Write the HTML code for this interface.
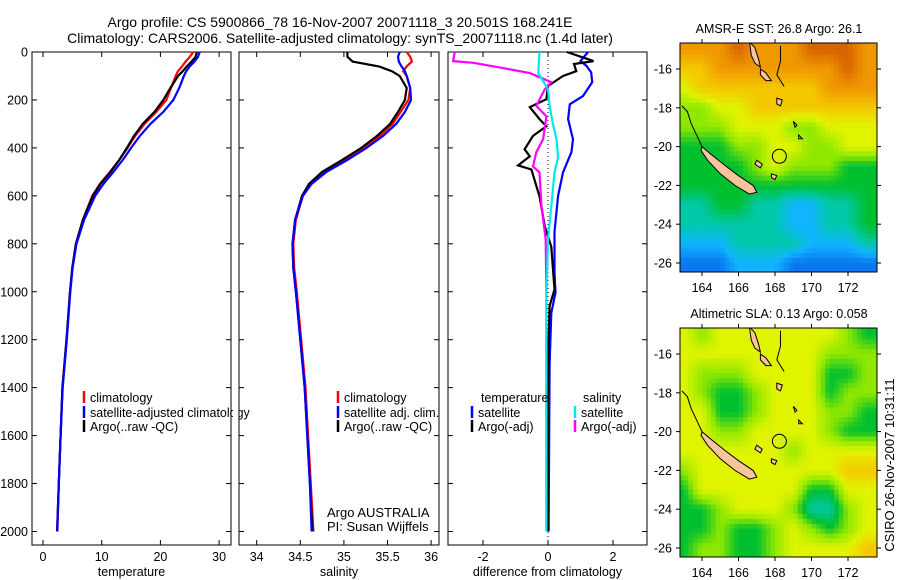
<!DOCTYPE html>
<html><head><meta charset="utf-8"><style>
html,body{margin:0;padding:0;background:#fff;}
svg{display:block;font-family:"Liberation Sans",sans-serif;}
</style></head><body>
<svg id="fig" width="900" height="580" viewBox="0 0 900 580" xmlns="http://www.w3.org/2000/svg">
<text x="340" y="27" font-size="14" text-anchor="middle">Argo profile: CS 5900866_78 16-Nov-2007 20071118_3 20.501S 168.241E</text>
<text x="340" y="43" font-size="14" text-anchor="middle">Climatology: CARS2006. Satellite-adjusted climatology: synTS_20071118.nc (1.4d later)</text>
<g id="p1"></g>
<g id="p2"></g>
<g id="p3"></g>
<g id="m1"></g>
<g id="m2"></g>
<text transform="translate(894,465) rotate(-90)" font-size="13" text-anchor="middle">CSIRO 26-Nov-2007 10:31:11</text>
</svg>
<script>
// ---- data ----
const depths = [0,20,40,60,80,100,150,200,250,300,350,400,450,500,550,600,700,800,900,1000,1200,1400,1600,1800,2000];
const tempArgo = [26.2,26.0,25.3,24.5,23.8,23.0,21.7,20.5,19.0,17.0,15.5,14.3,13.0,11.5,9.8,8.5,6.8,5.6,5.0,4.6,4.0,3.3,3.0,2.7,2.4];
const tempClim = [25.6,25.0,24.3,23.7,23.0,22.6,21.8,21.0,19.3,17.3,15.7,14.4,13.0,11.4,9.7,8.4,6.8,5.6,5.0,4.6,4.0,3.3,3.0,2.7,2.45];
const tempSat  = [26.7,26.4,25.8,25.0,24.4,24.0,23.2,22.2,20.5,18.3,16.5,15.0,13.6,12.0,10.3,8.9,7.0,5.7,5.05,4.65,4.05,3.35,3.0,2.7,2.4];
const salArgo = [35.04,35.04,35.1,35.4,35.55,35.64,35.72,35.70,35.62,35.53,35.38,35.2,34.98,34.75,34.6,34.52,34.44,34.41,34.42,34.45,34.5,34.55,34.58,34.61,34.64];
const salClim = [35.72,35.76,35.78,35.72,35.68,35.72,35.76,35.74,35.65,35.56,35.41,35.22,35.0,34.77,34.61,34.53,34.45,34.42,34.43,34.46,34.51,34.56,34.59,34.62,34.65];
const salSat  = [35.64,35.62,35.63,35.66,35.7,35.72,35.76,35.77,35.7,35.6,35.45,35.26,35.04,34.8,34.63,34.53,34.44,34.41,34.42,34.45,34.5,34.55,34.58,34.61,34.63];
const dBlackD = [0,38,50,80,100,142,197,230,280,310,350,406,435,473,490,602,728,812,990,1060,1200,1500,2000];
const dBlack  = [0.58,1.4,0.8,0.87,0.46,0,-0.05,-0.56,-0.26,-0.05,-0.46,-0.72,-0.56,-0.92,-0.51,-0.26,-0.1,0.1,0.2,0.05,0.02,0,0];
const dBlueD = [0,38,58,85,126,183,218,280,364,418,502,600,750,920,1004,1088,1300,2000];
const dBlue  = [1.23,1.0,1.18,1.33,1.36,1.08,0.67,0.62,0.77,0.72,0.46,0.31,0.2,0.2,0.23,0.1,0.05,0.02];
const dMagD = [0,38,45,67,88,126,155,225,268,364,418,477,502,644,782,1000,2000];
const dMag  = [-2.87,-2.92,-2.3,-1.38,-0.56,0.1,-0.1,-0.36,-0.05,-0.15,-0.36,-0.46,-0.26,-0.2,-0.07,-0.05,-0.05];
const dCyanD = [0,88,155,225,300,364,440,502,644,782,920,1000,2000];
const dCyan  = [-0.26,-0.3,0,0.05,0.15,0.26,0.31,0.2,0.1,0,-0.03,-0.05,-0.05];
const depthTicks = [0,200,400,600,800,1000,1200,1400,1600,1800,2000];
const tempTicks = [0,10,20,30];
const salTicks = [34,34.5,35,35.5,36];
const diffTicks = [-2,0,2];
const lonTicks = [164,166,168,170,172];
const latTicks = [16,18,20,22,24,26];
const sstGrid = [
[8,8,8,9,8,8,8,9,9,9,8],
[7,7,8,8,8,8,8,8,8,9,8],
[6,7,7,7,7,7,7,7,8,8,8],
[5,5,6,6,7,7,7,7,7,7,7],
[5,5,5,6,6,6,5,5,6,6,6],
[4,4,4,5,5,6,6,5,5,6,6],
[4,4,4,4,5,6,5,5,5,4,4],
[4,4,4,4,4,4,4,4,4,4,4],
[3,3,4,4,3,3,2,2,3,3,4],
[3,3,3,3,3,3,2,2,3,3,4],
[2,2,2,3,3,3,3,2,2,2,3],
[1,1,1,2,2,2,1,1,1,1,1]];
const slaGrid = [
[6,5,6,6,6,6,6,6,6,5,4],
[6,6,6,6,6,6,6,6,5,5,5],
[6,5,5,5,6,6,6,6,4,4,5],
[6,5,4,4,5,6,6,6,4,5,5],
[6,6,4,4,5,6,6,6,5,5,4],
[6,6,5,5,6,6,6,6,5,4,4],
[6,6,6,6,6,6,5,6,6,6,6],
[5,6,6,6,6,6,6,6,6,7,7],
[4,6,6,6,6,6,6,4,4,6,6],
[4,4,5,6,6,6,5,3,3,5,6],
[4,4,5,4,4,5,6,5,4,5,6],
[4,5,5,4,4,5,6,6,6,6,7]];
const palette = [[10,60,192],[10,120,240],[16,180,255],[0,200,168],[0,192,48],[144,232,0],[224,244,0],[244,200,0],[240,152,0],[216,100,0]];

// ---- helpers ----
const NS='http://www.w3.org/2000/svg';
function mk(parent,tag,attrs,text){const e=document.createElementNS(NS,tag);for(const k in attrs)e.setAttribute(k,attrs[k]);if(text!==undefined)e.textContent=text;parent.appendChild(e);return e;}
const Y0=52, Y1=531.5;
const yD = d => Y0 + (d/2000)*(Y1-Y0);
const xT = v => 43 + v*5.87;
const xS = v => 256.7 + (v-34)*87.2;
const xDf = v => 548 + v*32.5;

function panel(g,x0,x1,xs,xticks,label,fmt){
  const f=mk(g,'rect',{x:x0,y:Y0,width:x1-x0,height:545-Y0,fill:'none',stroke:'#000','stroke-width':1});
  
  depthTicks.forEach(d=>{const y=yD(d);
    mk(g,'line',{x1:x0,x2:x0+5,y1:y,y2:y,stroke:'#000'});
    mk(g,'line',{x1:x1-5,x2:x1,y1:y,y2:y,stroke:'#000'});
    if(x0<40){const t=mk(g,'text',{x:28,y:y+4.5,'font-size':12.5,'text-anchor':'end'},String(d));
      }
  });
  xticks.forEach(v=>{const x=xs(v);
    mk(g,'line',{x1:x,x2:x,y1:545,y2:540,stroke:'#000'});
    mk(g,'line',{x1:x,x2:x,y1:Y0,y2:Y0+5,stroke:'#000'});
    const t=mk(g,'text',{x:x,y:561,'font-size':12.5,'text-anchor':'middle'},fmt(v));
    
  });
  const l=mk(g,'text',{x:(x0+x1)/2,y:576,'font-size':12.5,'text-anchor':'middle'},label);
  
}
function line(g,ds,vs,xs,color,name){
  const pts=ds.map((d,i)=>xs(vs[i]).toFixed(1)+','+yD(d).toFixed(1)).join(' ');
  const p=mk(g,'polyline',{points:pts,fill:'none',stroke:color,'stroke-width':2.2,'stroke-linejoin':'miter'});
  
}
function legend(g,x,y,color,text){
  mk(g,'line',{x1:x,x2:x,y1:y-6,y2:y+6,stroke:color,'stroke-width':2.5});
  const t=mk(g,'text',{x:x+6,y:y+5,'font-size':12.5},text);
  
}

// ---- temperature ----
const p1=document.getElementById('p1');
panel(p1,32,231,xT,tempTicks,'temperature',v=>String(v));
line(p1,depths,tempClim,xT,'#ff0000','temp-climatology-line');
line(p1,depths,tempArgo,xT,'#000000','temp-argo-line');
line(p1,depths,tempSat,xT,'#0000ff','temp-satellite-line');
legend(p1,84,397,'#ff0000','climatology');
legend(p1,84,412,'#0000ff','satellite-adjusted climatology');
legend(p1,84,426,'#000000','Argo(..raw -QC)');

// ---- salinity ----
const p2=document.getElementById('p2');
mk(p2,'rect',{x:233,y:400,width:6,height:20,fill:'#fff'});
panel(p2,239,439,xS,salTicks,'salinity',v=>String(v));
line(p2,depths,salClim,xS,'#ff0000','sal-climatology-line');
line(p2,depths,salArgo,xS,'#000000','sal-argo-line');
line(p2,depths,salSat,xS,'#0000ff','sal-satellite-line');
legend(p2,338,397,'#ff0000','climatology');
legend(p2,338,412,'#0000ff','satellite adj. clim.');
legend(p2,338,426,'#000000','Argo(..raw -QC)');
mk(p2,'text',{x:327,y:517,'font-size':13},'Argo AUSTRALIA');
mk(p2,'text',{x:327,y:531,'font-size':13},'PI: Susan Wijffels');

// ---- difference ----
const p3=document.getElementById('p3');
panel(p3,448,647,xDf,diffTicks,'difference from climatology',v=>String(v));
mk(p3,'line',{x1:xDf(0),x2:xDf(0),y1:Y0,y2:545,stroke:'#000','stroke-dasharray':'1,3'});
line(p3,dBlueD,dBlue,xDf,'#0000ff','diff-temp-satellite-line');
line(p3,dBlackD,dBlack,xDf,'#000000','diff-temp-argo-line');
line(p3,dMagD,dMag,xDf,'#ff00ff','diff-sal-argo-line');
line(p3,dCyanD,dCyan,xDf,'#00e8f0','diff-sal-satellite-line');
mk(p3,'text',{x:481,y:402,'font-size':12.5},'temperature');
mk(p3,'text',{x:583,y:402,'font-size':12.5},'salinity');
legend(p3,472,412,'#0000ff','satellite');
legend(p3,472,426,'#000000','Argo(-adj)');
legend(p3,575,412,'#00e8f0','satellite');
legend(p3,575,426,'#ff00ff','Argo(-adj)');

// ---- maps ----
const xL = lon => 702 + (lon-164)*18.25;
const islands = [
 [[164.0,20.0],[164.5,20.4],[165.3,21.0],[166.0,21.5],[166.8,22.0],[167.0,22.35],[166.6,22.45],[165.8,22.0],[165.0,21.4],[164.3,20.7],[163.95,20.2]],
 [[166.6,14.6],[166.9,14.9],[167.1,15.5],[167.2,15.9],[166.9,15.7],[166.7,15.3]],
 [[167.2,16.0],[167.5,16.2],[167.8,16.6],[167.5,16.6],[167.2,16.3]],
 [[168.1,17.5],[168.4,17.6],[168.3,17.9],[168.1,17.8]],
 [[167.0,20.7],[167.3,20.9],[167.2,21.1],[166.9,20.9]],
 [[167.8,21.4],[168.1,21.5],[168.0,21.7],[167.8,21.6]],
 [[169.0,18.7],[169.2,18.9],[169.1,19.0]],
 [[169.3,19.4],[169.5,19.6],[169.3,19.6]]
];
function sample(grid,lon,s){
  let c=lon-163, r=s-15;
  c=Math.max(0,Math.min(10,c)); r=Math.max(0,Math.min(11,r));
  const c0=Math.min(9,Math.floor(c)), r0=Math.min(10,Math.floor(r));
  const fc=c-c0, fr=r-r0;
  return grid[r0][c0]*(1-fc)*(1-fr)+grid[r0][c0+1]*fc*(1-fr)+grid[r0+1][c0]*(1-fc)*fr+grid[r0+1][c0+1]*fc*fr;
}
function colorOf(v){
  const i=Math.max(0,Math.min(8,Math.floor(v))), f=Math.max(0,Math.min(1,v-i));
  const a=palette[i], b=palette[i+1];
  return 'rgb('+a.map((x,k)=>Math.round(x+(b[k]-x)*f)).join(',')+')';
}
function map(id,grid,topY,title){
  const g=document.getElementById(id);
  const yL = s => topY + 26 + (s-16)*19.4;
  const clip='c'+id;
  const cp=mk(g,'clipPath',{id:clip});mk(cp,'rect',{x:680,y:topY,width:197,height:229});
  const cg=mk(g,'g',{'clip-path':'url(#'+clip+')'});
  const step=0.25;
  for(let lon=162.75; lon<174; lon+=step){
    for(let s=14.5; s<26.9; s+=step){
      const v=sample(grid,lon+step/2,s+step/2);
      const cell=mk(cg,'rect',{x:xL(lon).toFixed(1),y:yL(s).toFixed(1),width:(step*18.25+0.6).toFixed(2),height:(step*19.4+0.6).toFixed(2),fill:colorOf(v)});
      
      
    }
  }
  islands.forEach(isl=>{
    mk(cg,'polygon',{points:isl.map(p=>xL(p[0]).toFixed(1)+','+yL(p[1]).toFixed(1)).join(' '),fill:'#f8c49c',stroke:'#000','stroke-width':1});
  });
  mk(cg,'polyline',{points:[[162.9,17.9],[163.2,18.2],[163.4,18.8],[163.7,19.4],[164.0,20.0]].map(p=>xL(p[0])+','+yL(p[1])).join(' '),fill:'none',stroke:'#000'});
  mk(cg,'polyline',{points:[[168.3,14.8],[168.3,15.6],[168.1,16.3],[168.5,16.9]].map(p=>xL(p[0])+','+yL(p[1])).join(' '),fill:'none',stroke:'#000'});
  const c=mk(cg,'circle',{cx:xL(168.24),cy:yL(20.5),r:7,fill:'none',stroke:'#000'});
  
  mk(g,'rect',{x:680,y:topY,width:197,height:229,fill:'none',stroke:'#000'});
  lonTicks.forEach(l=>{const x=xL(l);
    mk(g,'line',{x1:x,x2:x,y1:topY,y2:topY-4,stroke:'#000'});
    mk(g,'line',{x1:x,x2:x,y1:topY+229,y2:topY+233,stroke:'#000'});
    const t=mk(g,'text',{x:x,y:topY+249,'font-size':12.5,'text-anchor':'middle'},String(l));
    
  });
  latTicks.forEach(s=>{const y=yL(s);
    mk(g,'line',{x1:680,x2:676,y1:y,y2:y,stroke:'#000'});
    mk(g,'line',{x1:877,x2:881,y1:y,y2:y,stroke:'#000'});
    const t=mk(g,'text',{x:672,y:y+4.5,'font-size':12.5,'text-anchor':'end'},'-'+s);
    
  });
  const t=mk(g,'text',{x:779,y:topY-10,'font-size':12.5,'text-anchor':'middle'},title);
  
}
map('m1',sstGrid,43,'AMSR-E SST: 26.8 Argo: 26.1');
map('m2',slaGrid,328,'Altimetric SLA: 0.13 Argo: 0.058');
</script>
</body></html>
